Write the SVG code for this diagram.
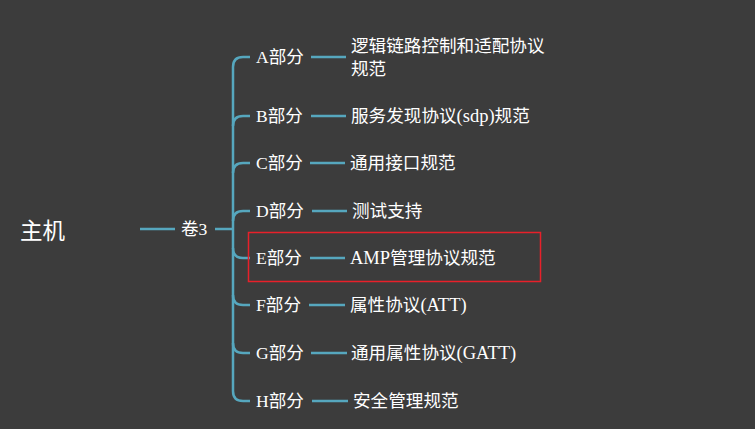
<svg xmlns="http://www.w3.org/2000/svg" width="755" height="429" viewBox="0 0 755 429">
<style>
.t{font-family:"Liberation Serif","Noto Sans CJK SC",serif;font-size:17.6px;fill:#ffffff;dominant-baseline:central}
.l{font-size:18.5px}
.root{font-family:"Noto Sans CJK SC","Liberation Sans",sans-serif;font-size:22.5px;fill:#ffffff;dominant-baseline:central}
.ln{stroke:#56a7be;stroke-width:2.5;fill:none;stroke-linecap:butt}
</style>
<rect width="755" height="429" fill="#3c3c3c"/>
<g id="connectors">
<line class="ln" x1="140" y1="229" x2="175" y2="229" stroke-width="3"/>
<line class="ln" x1="215" y1="229" x2="233" y2="229"/>
<path class="ln" d="M250 57 H243 Q233 57 233 67 V391 Q233 401 243 401 H250"/>
<path class="ln" d="M250 116 H243 Q233 116 233 126"/>
<path class="ln" d="M250 163 H243 Q233 163 233 173"/>
<path class="ln" d="M250 211 H243 Q233 211 233 221"/>
<path class="ln" d="M250 258 H243 Q233 258 233 248"/>
<path class="ln" d="M250 305 H243 Q233 305 233 295"/>
<path class="ln" d="M250 353 H243 Q233 353 233 343"/>
<line class="ln" x1="311" y1="57" x2="346" y2="57"/>
<line class="ln" x1="311" y1="116" x2="346" y2="116"/>
<line class="ln" x1="310" y1="163" x2="345" y2="163"/>
<line class="ln" x1="312" y1="211" x2="347" y2="211"/>
<line class="ln" x1="310" y1="258" x2="345" y2="258"/>
<line class="ln" x1="309" y1="305" x2="345" y2="305"/>
<line class="ln" x1="311" y1="353" x2="347" y2="353"/>
<line class="ln" x1="312" y1="401" x2="348" y2="401"/>
</g>
<g id="root"><text class="root" x="20" y="229">主机</text></g>
<g id="vol3"><text class="t" x="181" y="229">卷3</text></g>
<g id="A"><text class="t" x="256" y="57">A部分</text></g>
<g id="A1"><text class="t" x="351" y="46">逻辑链路控制和适配协议</text><text class="t" x="351" y="69">规范</text></g>
<g id="B"><text class="t" x="256" y="116">B部分</text></g>
<g id="B1"><text class="t" x="351" y="116">服务发现协议<tspan class="l">(sdp)</tspan>规范</text></g>
<g id="C"><text class="t" x="256" y="163">C部分</text></g>
<g id="C1"><text class="t" x="350" y="163">通用接口规范</text></g>
<g id="D"><text class="t" x="256" y="211">D部分</text></g>
<g id="D1"><text class="t" x="352" y="211">测试支持</text></g>
<g id="E"><text class="t" x="256" y="258">E部分</text></g>
<g id="E1"><text class="t" x="350" y="258"><tspan class="l">AMP</tspan>管理协议规范</text></g>
<g id="F"><text class="t" x="256" y="305">F部分</text></g>
<g id="F1"><text class="t" x="350" y="305">属性协议<tspan class="l">(ATT)</tspan></text></g>
<g id="G"><text class="t" x="256" y="353">G部分</text></g>
<g id="G1"><text class="t" x="351" y="353">通用属性协议<tspan class="l">(GATT)</tspan></text></g>
<g id="H"><text class="t" x="256" y="401">H部分</text></g>
<g id="H1"><text class="t" x="353" y="401">安全管理规范</text></g>
<g id="highlight"><rect x="248.5" y="232.5" width="292" height="49" fill="none" stroke="#e8202a" stroke-width="1.5"/></g>
</svg>
